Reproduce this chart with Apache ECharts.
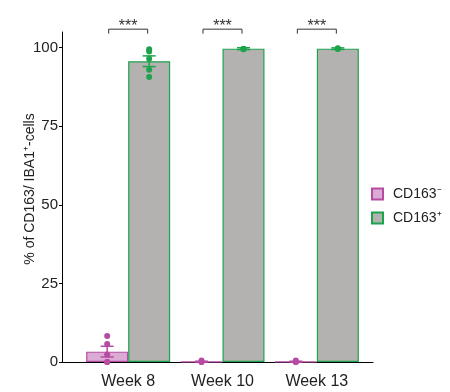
<!DOCTYPE html>
<html>
<head>
<meta charset="utf-8">
<script src="https://cdn.jsdelivr.net/npm/echarts@6/dist/echarts.min.js"></script>
<style>html,body{margin:0;padding:0;background:#fff}#chart{width:450px;height:392px}</style>
</head>
<body>
<div id="chart"></div>
<script>
// 数据
var weeks = ['Week 8', 'Week 10', 'Week 13'];
var negMean = [3.3, 0.1, 0.1];
var negSem = [1.7, 0.15, 0.15];
var posMean = [95.7, 99.7, 99.7];
var posSem = [1.7, 0.3, 0.25];
var negDots = [[8.3, 5.7, 2.4, 0, 0], [0.5, 0, 0], [0.5, 0, 0]];
var posDots = [[99.5, 98.8, 96.5, 93, 90.7], [99.7, 99.6, 99.5], [99.8, 99.7, 99.6]];
var stars = ['***', '***', '***'];
var yTicks = [0, 25, 50, 75, 100];

var pink = '#b54ca2', pinkFill = '#dcabd5';
var green = '#1ea34d', grayFill = '#b3b2b0';
var barW = 42;
var font = 'Liberation Sans, Arial, sans-serif';

var myChart = echarts.init(document.getElementById('chart'));

function dots(arr) {
    var out = [];
    arr.forEach(function (vals, i) {
        vals.forEach(function (v) { out.push([i, v]); });
    });
    return out;
}

// 误差线
function errRender(off, color) {
    return function (params, api) {
        var i = api.value(0), m = api.value(1), s = api.value(2);
        var top = api.coord([i, m + s]), bot = api.coord([i, m - s]);
        var x = top[0] + off, w = 6.5;
        var st = {stroke: color, lineWidth: 1.5};
        return {type: 'group', children: [
            {type: 'line', shape: {x1: x, y1: top[1], x2: x, y2: bot[1]}, style: st},
            {type: 'line', shape: {x1: x - w, y1: top[1], x2: x + w, y2: top[1]}, style: st},
            {type: 'line', shape: {x1: x - w, y1: bot[1], x2: x + w, y2: bot[1]}, style: st}
        ]};
    };
}

option = {
    animation: false,
    grid: [
        {left: 81, right: 86, top: 32, bottom: 30},
        {left: 62, right: 77, top: 32, bottom: 30}
    ],
    legend: {
        orient: 'vertical',
        left: 366,
        top: 182,
        itemWidth: 11,
        itemHeight: 11,
        itemGap: 10,
        textStyle: {fontSize: 14, color: '#222', fontFamily: font, padding: [0, 0, 0, 5]},
        data: [{name: 'CD163⁻', icon: 'rect'}, {name: 'CD163⁺', icon: 'rect'}]
    },
    xAxis: [{
        gridIndex: 0,
        type: 'category',
        data: weeks,
        axisLine: {show: false},
        axisTick: {show: false},
        axisLabel: {fontSize: 16, color: '#222', fontFamily: font, margin: 12}
    }, {
        gridIndex: 1,
        type: 'value',
        min: 0,
        max: 1,
        axisLine: {show: true, lineStyle: {color: '#000', width: 1}},
        axisTick: {show: false},
        axisLabel: {show: false},
        splitLine: {show: false}
    }],
    yAxis: [{
        gridIndex: 0,
        type: 'value',
        min: 0,
        max: 105,
        interval: 25,
        offset: 19,
        name: '% of CD163/ IBA1⁺-cells',
        nameLocation: 'middle',
        nameGap: 25,
        nameMoveOverlap: false,
        nameTextStyle: {fontSize: 14, color: '#222', fontFamily: font, padding: [0, 0, 0, 16]},
        axisLine: {show: true, lineStyle: {color: '#000', width: 1}},
        axisTick: {show: true, length: 3, customValues: yTicks, lineStyle: {color: '#000'}},
        axisLabel: {fontSize: 15, color: '#222', fontFamily: font, margin: 4, customValues: yTicks},
        splitLine: {show: false}
    }, {
        gridIndex: 1,
        type: 'value',
        show: false
    }],
    series: [{
        name: 'CD163⁻',
        type: 'bar',
        data: negMean,
        barWidth: barW,
        barGap: '0%',
        itemStyle: {color: pinkFill, borderColor: pink, borderWidth: 1.2}
    }, {
        name: 'CD163⁺',
        type: 'bar',
        data: posMean,
        barWidth: barW,
        barGap: '0%',
        itemStyle: {color: grayFill, borderColor: green, borderWidth: 1.2}
    }, {
        name: 'errNeg',
        type: 'custom',
        renderItem: errRender(-barW / 2, pink),
        data: negMean.map(function (m, i) { return [i, m, negSem[i]]; }),
        encode: {x: 0, y: 1},
        z: 3
    }, {
        name: 'errPos',
        type: 'custom',
        renderItem: errRender(barW / 2, green),
        data: posMean.map(function (m, i) { return [i, m, posSem[i]]; }),
        encode: {x: 0, y: 1},
        z: 3
    }, {
        name: 'dotsNeg',
        type: 'scatter',
        data: dots(negDots),
        symbolSize: 6,
        symbolOffset: [-barW / 2, 0],
        itemStyle: {color: pink, opacity: 1},
        z: 4
    }, {
        name: 'dotsPos',
        type: 'scatter',
        data: dots(posDots),
        symbolSize: 6,
        symbolOffset: [barW / 2, 0],
        itemStyle: {color: green, opacity: 1},
        z: 4
    }, {
        // 显著性标记
        name: 'sig',
        type: 'custom',
        clip: false,
        data: stars.map(function (s, i) { return [i, 105.9, s]; }),
        encode: {x: 0, y: 1},
        renderItem: function (params, api) {
            var p = api.coord([api.value(0), api.value(1)]);
            var hw = 19.5, tk = 4.5;
            return {type: 'group', children: [
                {type: 'polyline', shape: {points: [[p[0] - hw, p[1] + tk], [p[0] - hw, p[1]], [p[0] + hw, p[1]], [p[0] + hw, p[1] + tk]]},
                 style: {stroke: '#333', lineWidth: 1, fill: null}},
                {type: 'text', x: p[0], y: p[1] + 5,
                 style: {text: stars[params.dataIndex], fontSize: 16, fontFamily: font, fill: '#333', align: 'center', verticalAlign: 'bottom'}}
            ]};
        }
    }]
};

myChart.setOption(option);
</script>
</body>
</html>
